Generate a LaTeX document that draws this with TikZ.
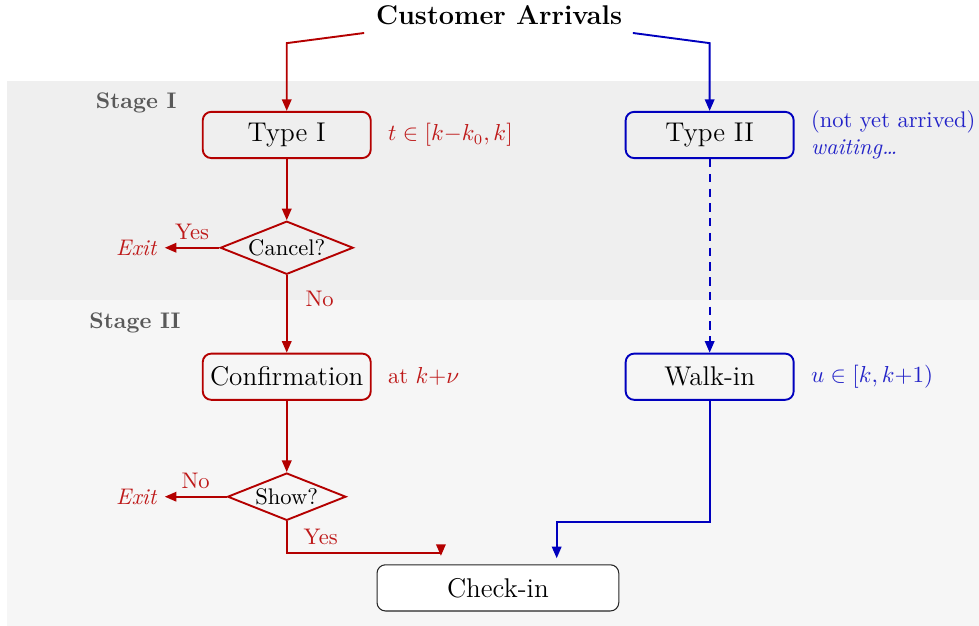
\documentclass[tikz,border=0pt]{standalone}
\usetikzlibrary{positioning,shapes.geometric,arrows.meta}
\definecolor{typeone}{RGB}{180,0,0}
\definecolor{typetwo}{RGB}{0,0,190}
\definecolor{redtext}{RGB}{190,25,25}
\definecolor{bluetext}{RGB}{35,35,200}
\definecolor{stageone}{RGB}{239,239,239}
\definecolor{stagetwo}{RGB}{246,246,246}
\newcommand\boxsize{\fontsize{12.85}{15.5}\selectfont}
\newcommand\notesize{\fontsize{10.7}{12.6}\selectfont}
\begin{document}
\begin{tikzpicture}[font=\notesize,
  box/.style={draw, rounded corners=4pt, minimum width=2.8cm, minimum height=0.77cm, font=\boxsize, line width=0.9pt},
  decide/.style={draw, diamond, aspect=2.5, inner sep=1pt, line width=0.9pt},
  redflow/.style={typeone, line width=0.9pt, -{Triangle[length=5.5pt,width=4.5pt]}},
  blueflow/.style={typetwo, line width=0.9pt, -{Triangle[length=5.5pt,width=4.5pt]}},
  stagelabel/.style={font=\notesize\bfseries, text=black!65}]
  \useasboundingbox (0,0) rectangle (16.32,-10.43);
  \fill[stageone] (0.12,-1.35) rectangle (16.32,-5.0);
  \fill[stagetwo] (0.12,-5.0) rectangle (16.32,-10.43);
  \node[stagelabel] (stageI) at (2.27,-1.72) {Stage I};
  \node[stagelabel] (stageII) at (2.25,-5.38) {Stage II};

  \node[font=\boxsize\bfseries] (title) at (8.32,-0.25) {Customer Arrivals};
  \coordinate (tl) at (6.07,-0.55);
  \coordinate (tr) at (10.55,-0.55);

  \node[box, draw=typeone] (typeI) at (4.78,-2.25) {Type I};
  \node[box, draw=typetwo] (typeII) at (11.83,-2.25) {Type II};
  \node[text=redtext, right=0.15cm of typeI] (tlabel) {$t\in[k{-}k_0,k]$};
  \node[text=bluetext, align=left, right=0.15cm of typeII] (wlabel) {(not yet arrived)\\\textit{waiting\ldots}};

  \node[decide, draw=typeone] (cancel) at (4.78,-4.13) {Cancel?};
  \node[text=redtext] (exitA) at (2.28,-4.13) {\textit{Exit}};

  \node[box, draw=typeone] (confirm) at (4.78,-6.28) {Confirmation};
  \node[box, draw=typetwo] (walkin) at (11.83,-6.28) {Walk-in};
  \node[text=redtext, right=0.15cm of confirm] (nulabel) {at $k{+}\nu$};
  \node[text=bluetext, right=0.15cm of walkin] (ulabel) {$u\in[k,k{+}1)$};

  \node[decide, draw=typeone] (show) at (4.78,-8.28) {Show?};
  \node[text=redtext] (exitB) at (2.28,-8.28) {\textit{Exit}};

  \node[box, draw=black!85, fill=white, line width=0.5pt, minimum width=4.03cm] (checkin) at (8.3,-9.8) {Check-in};
  \coordinate (redend) at ([xshift=-0.95cm,yshift=0.14cm]checkin.north);
  \coordinate (blueend) at ([xshift=0.98cm,yshift=0.1cm]checkin.north);

  \draw[redflow] (tl) -- ([yshift=1.13cm]typeI.north) -- (typeI.north);
  \draw[blueflow] (tr) -- ([yshift=1.13cm]typeII.north) -- (typeII.north);
  \draw[redflow] (typeI) -- (cancel);
  \draw[redflow] (cancel.west) -- node[above, text=redtext] {Yes} (exitA.east);
  \draw[redflow] (cancel) -- node[pos=0.3, right=0.18cm, text=redtext] {No} (confirm);
  \draw[redflow] (confirm) -- (show);
  \draw[redflow] (show.west) -- node[above, text=redtext] {No} (exitB.east);
  \draw[redflow] (show.south) -- ++(0,-0.53) node[above right, xshift=1.5mm, text=redtext] {Yes} -| (redend);
  \draw[blueflow, dash pattern=on 4pt off 3pt] (typeII) -- (walkin);
  \draw[blueflow] (walkin.south) -- ++(0,-2.02) -| (blueend);
\end{tikzpicture}
\end{document}
